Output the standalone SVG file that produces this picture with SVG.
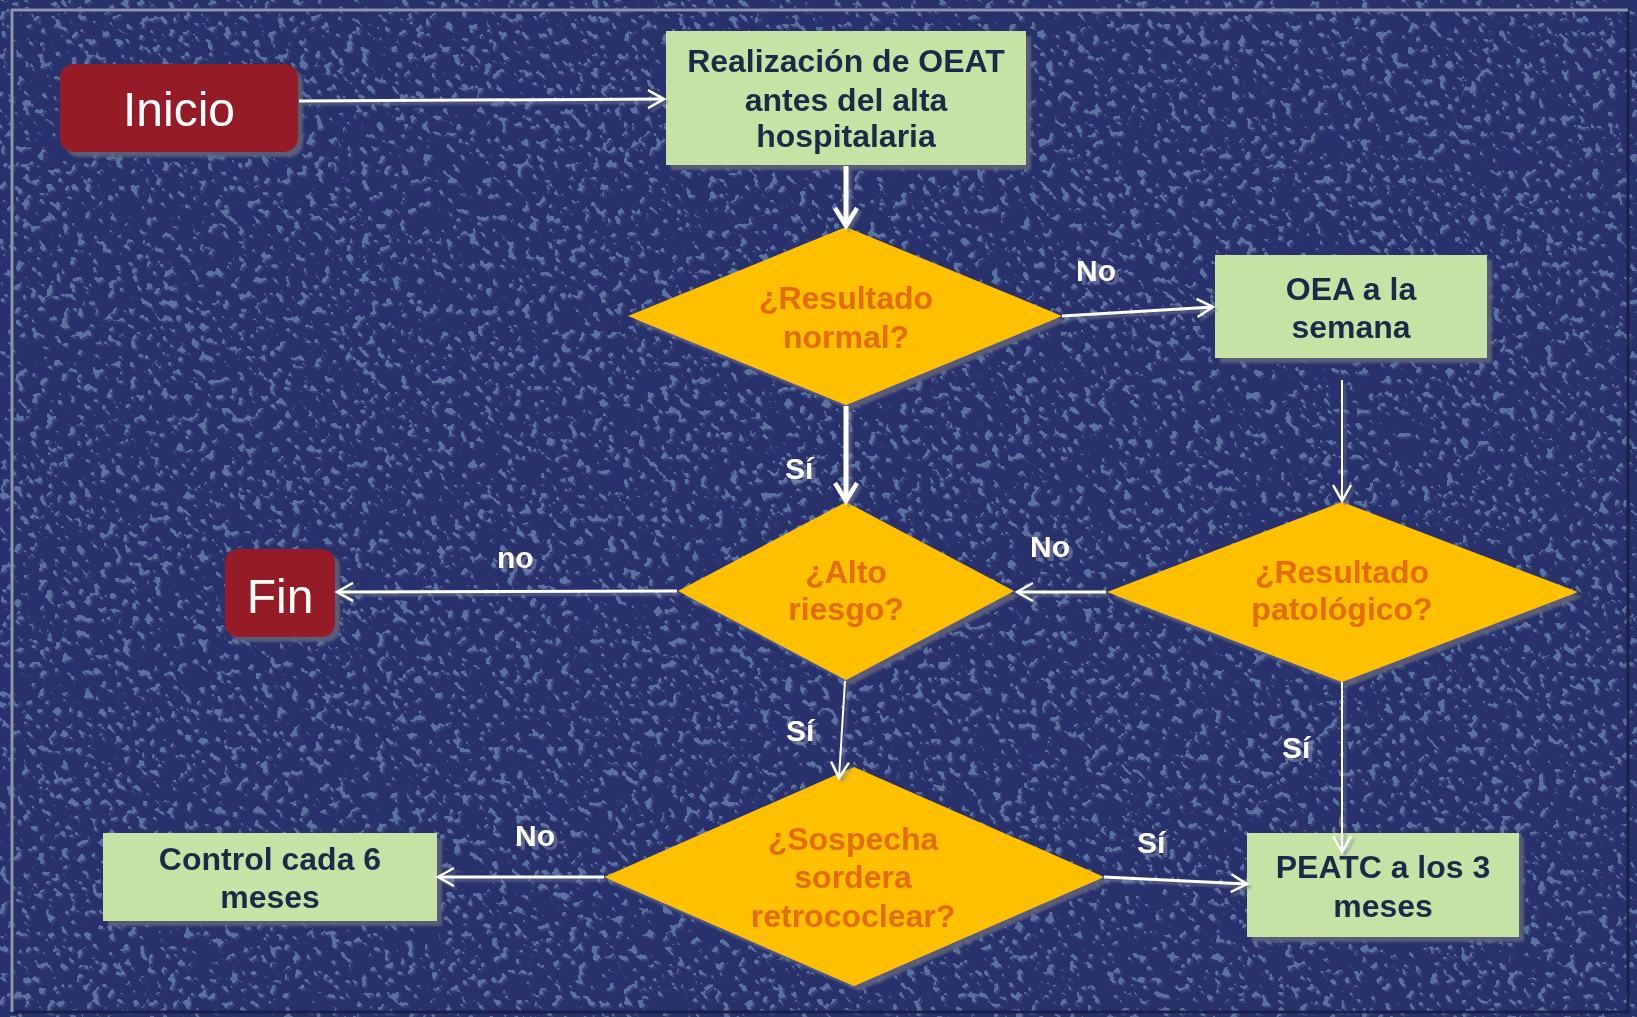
<svg xmlns="http://www.w3.org/2000/svg" width="1637" height="1017" viewBox="0 0 1637 1017">
<defs>
<style>
.box{fill:#c6e3a5}
.dia{fill:#ffc000}
.term{fill:#951c25}
.bt{font-family:"Liberation Sans",Arial,sans-serif;font-weight:bold;font-size:32px;fill:#1b2c48;text-anchor:middle}
.dt{font-family:"Liberation Sans",Arial,sans-serif;font-weight:bold;font-size:32px;fill:#e46c0a;text-anchor:middle}
.tt{font-family:"Liberation Sans",Arial,sans-serif;font-size:48px;fill:#ffffff;text-anchor:middle}
.lb{font-family:"Liberation Sans",Arial,sans-serif;font-weight:bold;font-size:30px;fill:#ffffff}
.c{fill:none;stroke:#ffffff;stroke-width:3}
.thin{stroke-width:2}
.thick{stroke-width:5}
</style>
<filter id="tex" x="0" y="0" width="100%" height="100%">
<feTurbulence type="fractalNoise" baseFrequency="0.13" numOctaves="2" seed="7" result="n"/>
<feColorMatrix in="n" type="matrix" values="0 0 0 0 0.26  0 0 0 0 0.45  0 0 0 0 0.68  22 0 0 0 -13.6" result="spots"/>
<feColorMatrix in="n" type="matrix" values="0 0 0 0 0.07  0 0 0 0 0.09  0 0 0 0 0.22  22 0 0 0 -13.6" result="dk"/>
<feOffset in="dk" dx="1.5" dy="1.5" result="dko"/>
<feMerge><feMergeNode in="dko"/><feMergeNode in="spots"/></feMerge>
</filter>
<filter id="sh" x="-10%" y="-10%" width="125%" height="130%">
<feDropShadow dx="5" dy="5" stdDeviation="1" flood-color="#5d617c" flood-opacity="0.9"/>
</filter>
<filter id="lsh" x="-5%" y="-20%" width="115%" height="160%">
<feDropShadow dx="3" dy="3" stdDeviation="0.8" flood-color="#7b809a" flood-opacity="0.55"/>
</filter>
<filter id="tsh" x="-10%" y="-20%" width="140%" height="160%">
<feDropShadow dx="4" dy="4" stdDeviation="0.6" flood-color="#8c90aa" flood-opacity="0.5"/>
</filter>
<marker id="ah" viewBox="0 0 24 24" refX="20" refY="12" markerWidth="24" markerHeight="24" markerUnits="userSpaceOnUse" orient="auto">
<path d="M4 3 L20 12 L4 21" fill="none" stroke="#ffffff" stroke-width="2.5" stroke-linejoin="miter"/>
</marker>
<marker id="ahk" viewBox="0 0 28 28" refX="23" refY="14" markerWidth="28" markerHeight="28" markerUnits="userSpaceOnUse" orient="auto">
<path d="M5 3 L23 14 L5 25" fill="none" stroke="#ffffff" stroke-width="4.5" stroke-linejoin="miter"/>
</marker>
</defs>

<g id="background">
<rect x="0" y="0" width="1637" height="1017" fill="#28316c"/>
<rect x="0" y="0" width="1637" height="1017" fill="#000" filter="url(#tex)" opacity="0.5"/>
<rect x="12" y="10" width="1616" height="1002" fill="none" stroke="#1a2048" stroke-width="3"/>
<path d="M12 1012 V10 H1628" fill="none" stroke="#8f95b0" stroke-width="3"/>
</g>

<g id="n-inicio" filter="url(#sh)">
<rect class="term" x="60" y="64" width="238" height="88" rx="14"/>
<text class="tt" x="179" y="126">Inicio</text>
</g>

<g id="n-realizacion" filter="url(#sh)">
<rect class="box" x="666" y="31" width="360" height="134"/>
<text class="bt" x="846" y="72">Realización de OEAT</text>
<text class="bt" x="846" y="111">antes del alta</text>
<text class="bt" x="846" y="147">hospitalaria</text>
</g>

<g id="n-normal" filter="url(#sh)">
<polygon class="dia" points="846,227 1062,316 846,405 628,316"/>
<text class="dt" x="846" y="309">¿Resultado</text>
<text class="dt" x="846" y="348">normal?</text>
</g>

<g id="n-oea" filter="url(#sh)">
<rect class="box" x="1215" y="255" width="272" height="103"/>
<text class="bt" x="1351" y="300">OEA a la</text>
<text class="bt" x="1351" y="338">semana</text>
</g>

<g id="n-alto" filter="url(#sh)">
<polygon class="dia" points="846,502 1014,591 846,680 678,591"/>
<text class="dt" x="846" y="583">¿Alto</text>
<text class="dt" x="846" y="620">riesgo?</text>
</g>

<g id="n-patologico" filter="url(#sh)">
<polygon class="dia" points="1342,502 1578,592 1342,682 1107,592"/>
<text class="dt" x="1342" y="583">¿Resultado</text>
<text class="dt" x="1342" y="620">patológico?</text>
</g>

<g id="n-fin" filter="url(#sh)">
<rect class="term" x="225" y="549" width="110" height="88" rx="13"/>
<text class="tt" x="280" y="613">Fin</text>
</g>

<g id="n-sospecha" filter="url(#sh)">
<polygon class="dia" points="854,767 1104,877 854,986 604,877"/>
<text class="dt" x="853" y="850">¿Sospecha</text>
<text class="dt" x="853" y="888">sordera</text>
<text class="dt" x="853" y="927">retrococlear?</text>
</g>

<g id="n-control" filter="url(#sh)">
<rect class="box" x="103" y="833" width="334" height="88"/>
<text class="bt" x="270" y="870">Control cada 6</text>
<text class="bt" x="270" y="908">meses</text>
</g>

<g id="n-peatc" filter="url(#sh)">
<rect class="box" x="1247" y="833" width="272" height="104"/>
<text class="bt" x="1383" y="878">PEATC a los 3</text>
<text class="bt" x="1383" y="917">meses</text>
</g>

<g id="connectors" filter="url(#lsh)">
<line class="c" x1="299" y1="101" x2="664" y2="99" marker-end="url(#ah)"/>
<line class="c thick" x1="846" y1="166" x2="846" y2="226" marker-end="url(#ahk)"/>
<line class="c" x1="1062" y1="316" x2="1213" y2="307" marker-end="url(#ah)"/>
<line class="c thick" x1="846" y1="406" x2="846" y2="501" marker-end="url(#ahk)"/>
<line class="c thin" x1="1342" y1="380" x2="1342" y2="501" marker-end="url(#ah)"/>
<line class="c" x1="1106" y1="592" x2="1017" y2="592" marker-end="url(#ah)"/>
<line class="c" x1="677" y1="591" x2="337" y2="592" marker-end="url(#ah)"/>
<line class="c thin" x1="845" y1="681" x2="839" y2="778" marker-end="url(#ah)"/>
<line class="c thin" x1="1342" y1="682" x2="1342" y2="852" marker-end="url(#ah)"/>
<line class="c" x1="604" y1="877" x2="438" y2="877" marker-end="url(#ah)"/>
<line class="c" x1="1104" y1="877" x2="1247" y2="884" marker-end="url(#ah)"/>
</g>

<g id="labels" filter="url(#tsh)">
<text class="lb" x="1076" y="281">No</text>
<text class="lb" x="785" y="479">Sí</text>
<text class="lb" x="1030" y="557">No</text>
<text class="lb" x="497" y="568">no</text>
<text class="lb" x="786" y="741">Sí</text>
<text class="lb" x="1282" y="758">Sí</text>
<text class="lb" x="515" y="846">No</text>
<text class="lb" x="1137" y="853">Sí</text>
</g>
</svg>
